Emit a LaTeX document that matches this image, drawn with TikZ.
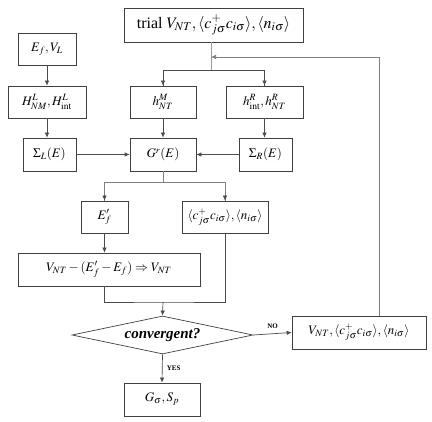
\documentclass[tikz,border=0pt]{standalone}
\usepackage{mathptmx}
\usepackage{fontspec}
\setmainfont{Liberation Serif}
\usetikzlibrary{arrows.meta,shapes.geometric,calc}
\begin{document}
\begin{tikzpicture}[x=1pt,y=-1pt,
  box/.style={draw=black!75,line width=0.7pt,fill=white,inner sep=1pt,font=\fontsize{13}{15}\selectfont},
  ln/.style={draw=black!70,line width=0.7pt},
  lnl/.style={draw=black!40,line width=1pt},
  arr/.style={ln,-{Latex[length=5pt,width=4.5pt]}},
  lab/.style={font=\fontsize{7}{8}\selectfont\bfseries}]
\useasboundingbox (0,0) rectangle (432,422);
\node[box,minimum width=179,minimum height=34] (trial) at (213.5,25) {\fontsize{16}{18}\selectfont trial $V_{NT},\langle c^{+}_{j\sigma}c_{i\sigma}\rangle,\langle n_{i\sigma}\rangle$};
\node[box,minimum width=58,minimum height=32] (efvl) at (47,49) {$E_f,V_L$};
\node[box,minimum width=78,minimum height=32] (hL) at (47,102) {$H^{L}_{NM},H^{L}_{\mathrm{int}}$};
\node[box,minimum width=66,minimum height=32] (hM) at (163,102) {$h^{M}_{NT}$};
\node[box,minimum width=77,minimum height=32] (hR) at (264.5,102) {$h^{R}_{\mathrm{int}},h^{R}_{NT}$};
\node[box,minimum width=53,minimum height=33] (sigL) at (49.5,154.5) {$\Sigma_L(E)$};
\node[box,minimum width=66,minimum height=33] (G) at (163,154.5) {$G^{r}(E)$};
\node[box,minimum width=53,minimum height=33] (sigR) at (265.5,154.5) {$\Sigma_R(E)$};
\node[box,minimum width=47,minimum height=32] (efp) at (104.5,217) {$E'_f$};
\node[box,minimum width=86,minimum height=32] (cc) at (225,217) {$\langle c^{+}_{j\sigma}c_{i\sigma}\rangle,\langle n_{i\sigma}\rangle$};
\node[box,minimum width=182,minimum height=33] (veq) at (109,269.5) {$V_{NT}-(E'_f-E_f)\Rightarrow V_{NT}$};
\node[draw=black!75,line width=0.7pt,diamond,aspect=4.76,inner sep=0pt,minimum width=181,minimum height=38,font=\fontsize{15}{17}\selectfont\bfseries\itshape] (conv) at (162.5,335) {convergent?};
\node[box,minimum width=134,minimum height=33] (nobox) at (359,332.5) {$V_{NT},\langle c^{+}_{j\sigma}c_{i\sigma}\rangle,\langle n_{i\sigma}\rangle$};
\node[box,minimum width=76,minimum height=33] (gbox) at (162,399.5) {$G_{\sigma},S_{p}$};
\coordinate (j1) at (211,70);
\coordinate (fb) at (211,57);
\coordinate (fbc) at (379,57);
\coordinate (j2) at (163,182);
\coordinate (j3) at (163,302);
% top split
\draw[lnl] (trial.south -| j1) -- (j1);
\draw[ln] (j1) -| (hM.north) (j1) -| (hR.north);
\draw[arr] (hM.north) ++(0,-6) -- (hM.north);
\draw[arr] (hR.north) ++(0,-6) -- (hR.north);
% feedback
\draw[ln,draw=black!50] (nobox.north -| fbc) -- (fbc);
\draw[arr,draw=black!50] (fbc) -- (fb);
% left column
\draw[arr] (efvl) -- (hL);
\draw[arr] (hL.south) -- (hL.south |- sigL.north);
\draw[arr] (hM) -- (G);
\draw[arr] (hR) -- (hR.south |- sigR.north);
\draw[arr] (sigL) -- (G);
\draw[arr] (sigR) -- (G);
% split below G
\draw[ln,draw=black!50] (G.south) -- (j2);
\draw[ln,draw=black!50] (j2) -| (efp.north) (j2) -| (cc.north);
\draw[arr] (efp.north) ++(0,-6) -- (efp.north);
\draw[arr] (cc.north) ++(0,-6) -- (cc.north);
\draw[arr] (efp) -- (efp.south |- veq.north);
% merge
\draw[ln] (veq.south -| efp) |- (j3) -| (cc.south);
\draw[arr] (j3) -- (conv.north);
\draw[arr] (conv.east) -- node[lab,above=1pt] {NO} (nobox.west);
\draw[arr] (conv.south) -- node[lab,right=1pt] {YES} (gbox.north);
\end{tikzpicture}
\end{document}
